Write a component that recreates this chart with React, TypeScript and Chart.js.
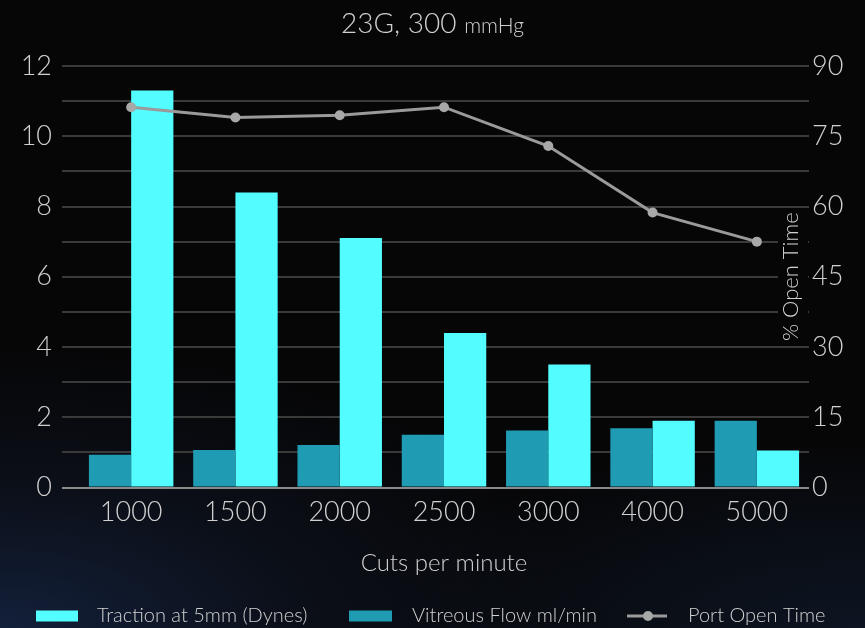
import { useEffect, useRef } from 'react';
import { Chart, registerables } from 'chart.js';

Chart.register(...registerables);

// Cutting rate on the category axis
const cutsPerMinute = ['1000', '1500', '2000', '2500', '3000', '4000', '5000'];
// Left axis: traction force and vitreous flow
const tractionDynes = [11.3, 8.4, 7.1, 4.4, 3.5, 1.9, 1.05];
const vitreousFlow = [0.93, 1.07, 1.21, 1.5, 1.62, 1.69, 1.9];
// Right axis: share of each cycle the port stays open (%)
const portOpenTime = [81.2, 79.0, 79.5, 81.2, 72.9, 58.7, 52.5];
// Axis ranges and tick steps
const leftAxisRange = [0, 12];
const leftGridStep = 1;
const leftLabelStep = 2;
const rightAxisRange = [0, 90];
const rightTickStep = 15;

const FONT = 'Lato, "Open Sans", "DejaVu Sans", sans-serif';
const WEIGHT = 300;
const TEXT = '#d0d0d0';
const CYAN = '#52fcff';
const TEAL = '#1f9cb4';
const LINE_GREY = '#9a9a9a';
const POINT_GREY = '#a8a8a8';
const GRID = '#3a3a3a';
const BASELINE = '#8a8a8a';
const BG = '#060607';

const titlePlugin = {
  id: 'splitTitle',
  afterDraw(chart: Chart) {
    const ctx = chart.ctx;
    const main = '23G, 300 ';
    const unit = 'mmHg';
    ctx.save();
    ctx.fillStyle = TEXT;
    ctx.textBaseline = 'alphabetic';
    ctx.font = `${WEIGHT} 28px ${FONT}`;
    const w1 = ctx.measureText(main).width;
    ctx.font = `${WEIGHT} 21px ${FONT}`;
    const w2 = ctx.measureText(unit).width;
    const x0 = chart.width / 2 - (w1 + w2) / 2;
    const base = 33;
    ctx.font = `${WEIGHT} 28px ${FONT}`;
    ctx.textAlign = 'left';
    ctx.fillText(main, x0, base);
    ctx.font = `${WEIGHT} 21px ${FONT}`;
    ctx.fillText(unit, x0 + w1, base);
    ctx.restore();
  },
};

// Right-axis title sits between the plot and the tick labels, over a dark patch
const rightTitlePlugin = {
  id: 'rightTitle',
  afterDraw(chart: Chart) {
    const ctx = chart.ctx;
    const area = chart.chartArea;
    const cy = (area.top + area.bottom) / 2;
    const cx = area.right - 18;
    const text = '% Open Time';
    ctx.save();
    ctx.font = `${WEIGHT} 22px ${FONT}`;
    const w = ctx.measureText(text).width;
    ctx.fillStyle = BG;
    ctx.fillRect(cx - 13, cy - w / 2 - 4, 30, w + 8);
    ctx.translate(cx, cy);
    ctx.rotate(-Math.PI / 2);
    ctx.fillStyle = TEXT;
    ctx.textAlign = 'center';
    ctx.textBaseline = 'middle';
    ctx.fillText(text, 0, 0);
    ctx.restore();
  },
};

const legendPlugin = {
  id: 'bottomLegend',
  afterDraw(chart: Chart) {
    const ctx = chart.ctx;
    const ds = chart.data.datasets;
    const byLabel = (l: string) => ds.find((d) => d.label === l) as any;
    const y = 616;
    ctx.save();
    ctx.font = `${WEIGHT} 20px ${FONT}`;
    ctx.textBaseline = 'middle';
    ctx.textAlign = 'left';

    const traction = byLabel('Traction at 5mm (Dynes)');
    ctx.fillStyle = traction.backgroundColor;
    ctx.fillRect(36, y - 5.5, 42, 11);
    ctx.fillStyle = TEXT;
    ctx.fillText(traction.label, 97, y);

    const flow = byLabel('Vitreous Flow ml/min');
    ctx.fillStyle = flow.backgroundColor;
    ctx.fillRect(349, y - 5.5, 43, 11);
    ctx.fillStyle = TEXT;
    ctx.fillText(flow.label, 412, y);

    const port = byLabel('Port Open Time');
    ctx.strokeStyle = port.borderColor;
    ctx.lineWidth = 3;
    ctx.beginPath();
    ctx.moveTo(627, y);
    ctx.lineTo(667, y);
    ctx.stroke();
    ctx.fillStyle = port.pointBackgroundColor;
    ctx.beginPath();
    ctx.arc(648, y, 5, 0, Math.PI * 2);
    ctx.fill();
    ctx.fillStyle = TEXT;
    ctx.fillText(port.label, 688, y);
    ctx.restore();
  },
};

export default function App() {
  const canvasRef = useRef<HTMLCanvasElement | null>(null);

  useEffect(() => {
    document.body.style.margin = '0';
    document.body.style.background = BG;
    const canvas = canvasRef.current;
    if (!canvas) return;

    const tickFont = { family: FONT, size: 27, weight: WEIGHT };

    const chart = new Chart(canvas, {
      type: 'bar',
      data: {
        labels: cutsPerMinute,
        datasets: [
          {
            type: 'bar',
            label: 'Vitreous Flow ml/min',
            data: vitreousFlow,
            backgroundColor: TEAL,
            borderWidth: 0,
            yAxisID: 'y',
            categoryPercentage: 0.81,
            barPercentage: 1,
            order: 1,
          },
          {
            type: 'bar',
            label: 'Traction at 5mm (Dynes)',
            data: tractionDynes,
            backgroundColor: CYAN,
            borderWidth: 0,
            yAxisID: 'y',
            categoryPercentage: 0.81,
            barPercentage: 1,
            order: 1,
          },
          {
            type: 'line',
            label: 'Port Open Time',
            data: portOpenTime,
            borderColor: LINE_GREY,
            borderWidth: 3,
            pointRadius: 5,
            pointBackgroundColor: POINT_GREY,
            pointBorderWidth: 0,
            yAxisID: 'y1',
            order: 0,
          } as any,
        ],
      },
      options: {
        animation: false,
        responsive: false,
        maintainAspectRatio: false,
        layout: { padding: { top: 66, left: 0, right: 0, bottom: 0 } },
        plugins: {
          legend: { display: false },
          title: { display: false },
          tooltip: { enabled: false },
        },
        scales: {
          x: {
            offset: true,
            grid: { display: false, drawTicks: false },
            border: { display: false },
            ticks: {
              color: TEXT,
              font: tickFont as any,
              padding: 9,
            },
            title: {
              display: true,
              text: 'Cuts per minute',
              color: TEXT,
              font: { family: FONT, size: 24, weight: WEIGHT } as any,
              padding: { top: 0, bottom: 50 },
            },
            afterFit(scale: any) {
              scale.height = 140.5;
            },
          },
          y: {
            position: 'left',
            min: leftAxisRange[0],
            max: leftAxisRange[1],
            grid: {
              color: (c: any) => (c.tick && c.tick.value === 0 ? BASELINE : GRID),
              lineWidth: 2,
              drawTicks: true,
              tickLength: 17,
            },
            border: { display: false },
            ticks: {
              stepSize: leftGridStep,
              maxTicksLimit: 20,
              autoSkip: false,
              color: TEXT,
              font: tickFont as any,
              padding: 10,
              callback: (v: any) => (Number(v) % leftLabelStep === 0 ? String(v) : ''),
            },
            afterFit(scale: any) {
              scale.width = 79;
            },
          },
          y1: {
            position: 'right',
            min: rightAxisRange[0],
            max: rightAxisRange[1],
            grid: { display: false, drawTicks: false },
            border: { display: false },
            ticks: {
              stepSize: rightTickStep,
              color: TEXT,
              font: tickFont as any,
              padding: 3,
            },
            afterFit(scale: any) {
              scale.width = 56;
            },
          },
        },
      },
      plugins: [titlePlugin, rightTitlePlugin, legendPlugin],
    });

    return () => chart.destroy();
  }, []);

  return (
    <div
      style={{
        position: 'relative',
        width: 865,
        height: 628,
        overflow: 'hidden',
        background:
          'radial-gradient(ellipse 70% 45% at 0% 100%, #13203a 0%, #0b0f18 50%, rgba(6,6,7,0) 100%), radial-gradient(ellipse 60% 30% at 100% 100%, #0d1522 0%, rgba(6,6,7,0) 100%), #060607',
      }}
    >
      <canvas ref={canvasRef} width={865} height={628} style={{ display: 'block' }} />
    </div>
  );
}
